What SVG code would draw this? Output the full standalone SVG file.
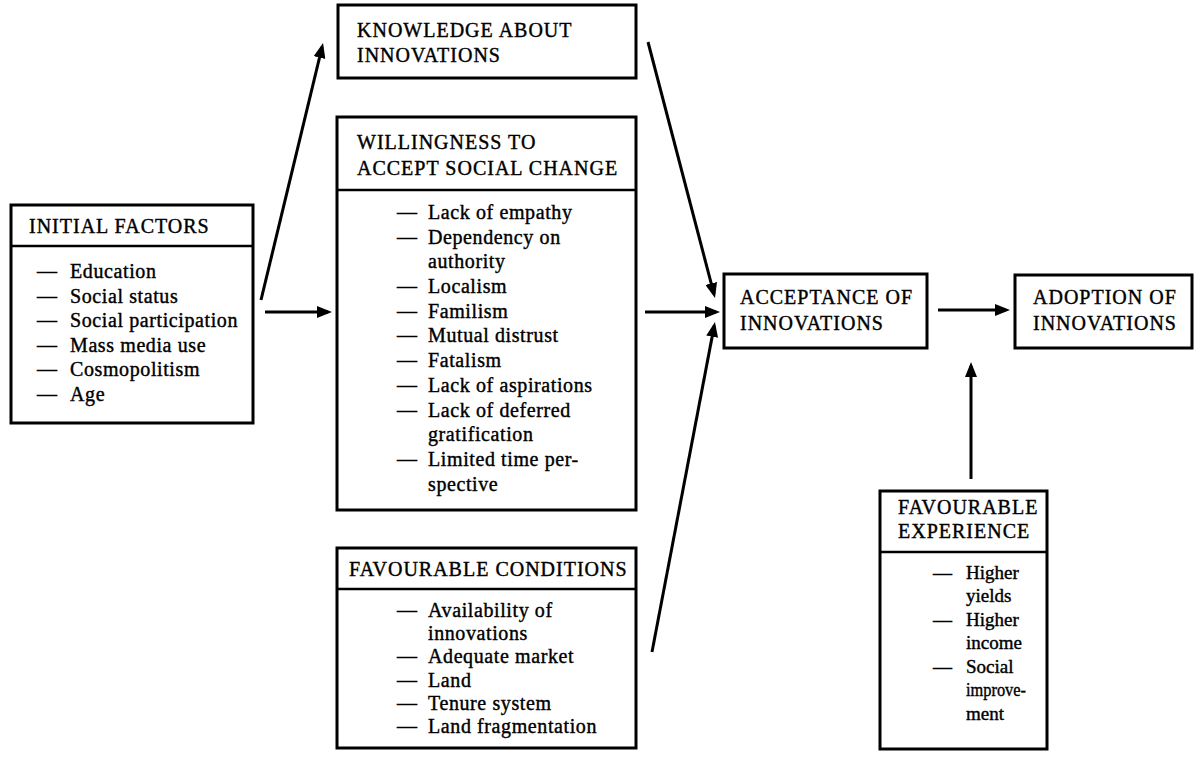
<svg xmlns="http://www.w3.org/2000/svg" width="1202" height="757" viewBox="0 0 1202 757">
  <style>
    .box { fill: #fff; stroke: #000; stroke-width: 3; }
    .div { stroke: #000; stroke-width: 2.5; }
    .hd { font-family: "Liberation Serif", "Times New Roman", serif; font-size: 20px; letter-spacing: 1px; fill: #000; stroke: #000; stroke-width: 0.4px; }
    .it { font-family: "Liberation Serif", "Times New Roman", serif; font-size: 20px; letter-spacing: 0.6px; fill: #000; stroke: #000; stroke-width: 0.4px; }
    .sm { font-size: 19px; letter-spacing: 0; }
    .cn { fill: none; stroke: #000; stroke-width: 3; marker-end: url(#ah); }
  </style>
  <defs>
    <marker id="ah" viewBox="0 0 15 12" markerWidth="15" markerHeight="12" refX="11" refY="6" orient="auto" markerUnits="userSpaceOnUse">
      <path d="M0,0 L15,6 L0,12 z" fill="#000"/>
    </marker>
  </defs>
  <rect width="1202" height="757" fill="#fff"/>

  <!-- Initial factors -->
  <g id="initial-factors">
    <rect class="box" x="11" y="205" width="242" height="218"/>
    <line class="div" x1="11" y1="246" x2="253" y2="246"/>
    <text class="hd" x="29" y="233">INITIAL FACTORS</text>
    <text class="it" y="278"><tspan x="37">—</tspan><tspan x="70">Education</tspan></text>
    <text class="it" y="302.5"><tspan x="37">—</tspan><tspan x="70">Social status</tspan></text>
    <text class="it" y="327"><tspan x="37">—</tspan><tspan x="70">Social participation</tspan></text>
    <text class="it" y="351.5"><tspan x="37">—</tspan><tspan x="70">Mass media use</tspan></text>
    <text class="it" y="376"><tspan x="37">—</tspan><tspan x="70">Cosmopolitism</tspan></text>
    <text class="it" y="400.5"><tspan x="37">—</tspan><tspan x="70">Age</tspan></text>
  </g>

  <!-- Knowledge about innovations -->
  <g id="knowledge">
    <rect class="box" x="338" y="5" width="298" height="73"/>
    <text class="hd" x="357" y="37">KNOWLEDGE ABOUT</text>
    <text class="hd" x="357" y="62">INNOVATIONS</text>
  </g>

  <!-- Willingness to accept social change -->
  <g id="willingness">
    <rect class="box" x="337" y="117" width="299" height="393"/>
    <line class="div" x1="337" y1="190" x2="636" y2="190"/>
    <text class="hd" x="357" y="149">WILLINGNESS TO</text>
    <text class="hd" x="357" y="175">ACCEPT SOCIAL CHANGE</text>
    <text class="it" y="219"><tspan x="397">—</tspan><tspan x="428">Lack of empathy</tspan></text>
    <text class="it" y="244"><tspan x="397">—</tspan><tspan x="428">Dependency on</tspan></text>
    <text class="it" y="268"><tspan x="428">authority</tspan></text>
    <text class="it" y="293"><tspan x="397">—</tspan><tspan x="428">Localism</tspan></text>
    <text class="it" y="318"><tspan x="397">—</tspan><tspan x="428">Familism</tspan></text>
    <text class="it" y="342"><tspan x="397">—</tspan><tspan x="428">Mutual distrust</tspan></text>
    <text class="it" y="367"><tspan x="397">—</tspan><tspan x="428">Fatalism</tspan></text>
    <text class="it" y="392"><tspan x="397">—</tspan><tspan x="428">Lack of aspirations</tspan></text>
    <text class="it" y="417"><tspan x="397">—</tspan><tspan x="428">Lack of deferred</tspan></text>
    <text class="it" y="441"><tspan x="428">gratification</tspan></text>
    <text class="it" y="466"><tspan x="397">—</tspan><tspan x="428">Limited time per-</tspan></text>
    <text class="it" y="491"><tspan x="428">spective</tspan></text>
  </g>

  <!-- Favourable conditions -->
  <g id="favourable-conditions">
    <rect class="box" x="337" y="548" width="299" height="200"/>
    <line class="div" x1="337" y1="589" x2="636" y2="589"/>
    <text class="hd" x="349" y="576" letter-spacing="0.5">FAVOURABLE CONDITIONS</text>
    <text class="it" y="617"><tspan x="397">—</tspan><tspan x="428">Availability of</tspan></text>
    <text class="it" y="640"><tspan x="428">innovations</tspan></text>
    <text class="it" y="663"><tspan x="397">—</tspan><tspan x="428">Adequate market</tspan></text>
    <text class="it" y="687"><tspan x="397">—</tspan><tspan x="428">Land</tspan></text>
    <text class="it" y="710"><tspan x="397">—</tspan><tspan x="428">Tenure system</tspan></text>
    <text class="it" y="733"><tspan x="397">—</tspan><tspan x="428">Land fragmentation</tspan></text>
  </g>

  <!-- Acceptance of innovations -->
  <g id="acceptance">
    <rect class="box" x="724" y="274" width="203" height="74"/>
    <text class="hd" x="740" y="304">ACCEPTANCE OF</text>
    <text class="hd" x="740" y="330">INNOVATIONS</text>
  </g>

  <!-- Adoption of innovations -->
  <g id="adoption">
    <rect class="box" x="1015" y="275" width="177" height="73"/>
    <text class="hd" x="1033" y="304">ADOPTION OF</text>
    <text class="hd" x="1033" y="330">INNOVATIONS</text>
  </g>

  <!-- Favourable experience -->
  <g id="favourable-experience">
    <rect class="box" x="880" y="491" width="167" height="258"/>
    <line class="div" x1="880" y1="552" x2="1047" y2="552"/>
    <text class="hd" x="898" y="514">FAVOURABLE</text>
    <text class="hd" x="898" y="538">EXPERIENCE</text>
    <text class="it sm" y="579"><tspan x="933">—</tspan><tspan x="966">Higher</tspan></text>
    <text class="it sm" y="602"><tspan x="966">yields</tspan></text>
    <text class="it sm" y="626"><tspan x="933">—</tspan><tspan x="966">Higher</tspan></text>
    <text class="it sm" y="649"><tspan x="966">income</tspan></text>
    <text class="it sm" y="673"><tspan x="933">—</tspan><tspan x="966">Social</tspan></text>
    <text class="it sm" y="696" x="966" textLength="60" lengthAdjust="spacingAndGlyphs">improve-</text>
    <text class="it sm" y="720"><tspan x="966">ment</tspan></text>
  </g>

  <!-- Connectors -->
  <g id="connectors">
    <line class="cn" x1="261" y1="300" x2="322.1" y2="46.9"/>
    <line class="cn" x1="265" y1="312" x2="328" y2="312"/>
    <line class="cn" x1="648" y1="42" x2="714" y2="294.1"/>
    <line class="cn" x1="645" y1="312" x2="716" y2="312"/>
    <line class="cn" x1="652" y1="652" x2="714.2" y2="325.9"/>
    <line class="cn" x1="938" y1="310" x2="1006" y2="310"/>
    <line class="cn" x1="971" y1="479" x2="971" y2="366"/>
  </g>
</svg>
